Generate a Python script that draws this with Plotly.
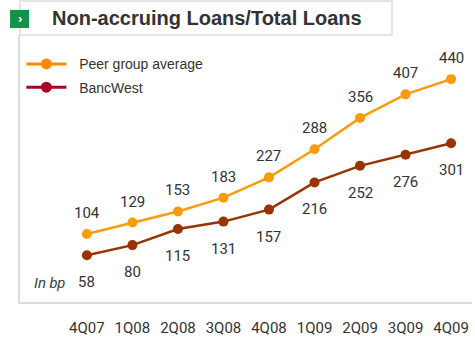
import plotly.graph_objects as go

# data
quarters = ["4Q07", "1Q08", "2Q08", "3Q08", "4Q08", "1Q09", "2Q09", "3Q09", "4Q09"]
peer_avg = [104, 129, 153, 183, 227, 288, 356, 407, 440]
bancwest = [58, 80, 115, 131, 157, 216, 252, 276, 301]

PEER_LINE = "#f89c0e"
BANC_LINE = "#993300"
PEER_LEG = "#ff8a00"
BANC_LEG = "#a8002b"
TEXT = "#333333"
GRID = "#dddddd"
NUMFONT = "Roboto, sans-serif"
SANS = "Liberation Sans, Arial, sans-serif"

x_idx = list(range(len(quarters)))

fig = go.Figure()

# main series (legend is drawn by the dummy traces below)
fig.add_trace(go.Scatter(
    x=x_idx, y=peer_avg, mode="lines+markers",
    line=dict(color=PEER_LINE, width=2.5),
    marker=dict(color=PEER_LINE, size=10),
    showlegend=False,
))
fig.add_trace(go.Scatter(
    x=x_idx, y=bancwest, mode="lines+markers",
    line=dict(color=BANC_LINE, width=2.5),
    marker=dict(color=BANC_LINE, size=10),
    showlegend=False,
))

# legend entries
fig.add_trace(go.Scatter(x=[None], y=[None], mode="lines+markers", name="&nbsp;&nbsp;Peer group average",
                         legendgroup="a",
                         line=dict(color=PEER_LEG, width=3), marker=dict(color=PEER_LEG, size=11)))
fig.add_trace(go.Scatter(x=[None], y=[None], mode="lines+markers", name="&nbsp;&nbsp;BancWest",
                         legendgroup="b",
                         line=dict(color=BANC_LEG, width=3), marker=dict(color=BANC_LEG, size=11)))

# value labels
for i, v in zip(x_idx, peer_avg):
    fig.add_annotation(x=i, y=v, text=str(v), showarrow=False, yshift=21,
                       font=dict(family=NUMFONT, size=15, color=TEXT))
for i, v in zip(x_idx, bancwest):
    fig.add_annotation(x=i, y=v, text=str(v), showarrow=False, yshift=-27,
                       font=dict(family=NUMFONT, size=15, color=TEXT))

fig.add_annotation(xref="paper", yref="paper", x=0.066, y=0.071, xanchor="center", yanchor="middle",
                   text="<i>In bp</i>", showarrow=False, font=dict(family=SANS, size=14, color=TEXT))

# title box with green marker
fig.add_shape(type="rect", xref="paper", yref="paper", x0=0, x1=0.823, y0=1.0, y1=1.127,
              line=dict(color=GRID, width=1.5), fillcolor="white", layer="below")
fig.add_shape(type="rect", xref="paper", yref="paper", x0=-0.022, x1=0.020, y0=1.026, y1=1.094,
              line=dict(width=0), fillcolor="#119447")
fig.add_annotation(xref="paper", yref="paper", x=-0.001, y=1.06, xanchor="center", yanchor="middle",
                   text="<b>›</b>", showarrow=False,
                   font=dict(family=SANS, size=13, color="white"))
fig.add_annotation(xref="paper", yref="paper", x=0.066, y=1.063, xanchor="left", yanchor="middle",
                   text="<b>Non-accruing Loans/Total Loans</b>", showarrow=False,
                   font=dict(family=SANS, size=20, color=TEXT))

fig.update_layout(
    width=475, height=338,
    paper_bgcolor="white", plot_bgcolor="white",
    margin=dict(l=20, r=3, t=35, b=36, autoexpand=False),
    xaxis=dict(
        range=[-1.47, 8.46], tickmode="array", tickvals=x_idx, ticktext=quarters,
        showgrid=False, zeroline=False, showline=True, linecolor=GRID, linewidth=2,
        ticks="outside", ticklen=11, tickcolor="rgba(0,0,0,0)", automargin=False,
        tickfont=dict(family=NUMFONT, size=15, color=TEXT),
    ),
    yaxis=dict(
        range=[-43.4, 535.8], showticklabels=False, showgrid=False, zeroline=False,
        showline=True, linecolor=GRID, linewidth=2, automargin=False,
    ),
    legend=dict(
        x=0.003, y=0.95, xanchor="left", yanchor="top", bgcolor="rgba(0,0,0,0)",
        font=dict(family=SANS, size=14, color=TEXT),
        itemwidth=40, tracegroupgap=2,
    ),
)

fig.write_html("out.html", config={"displayModeBar": False},
               post_script="document.body.style.margin='0';")
